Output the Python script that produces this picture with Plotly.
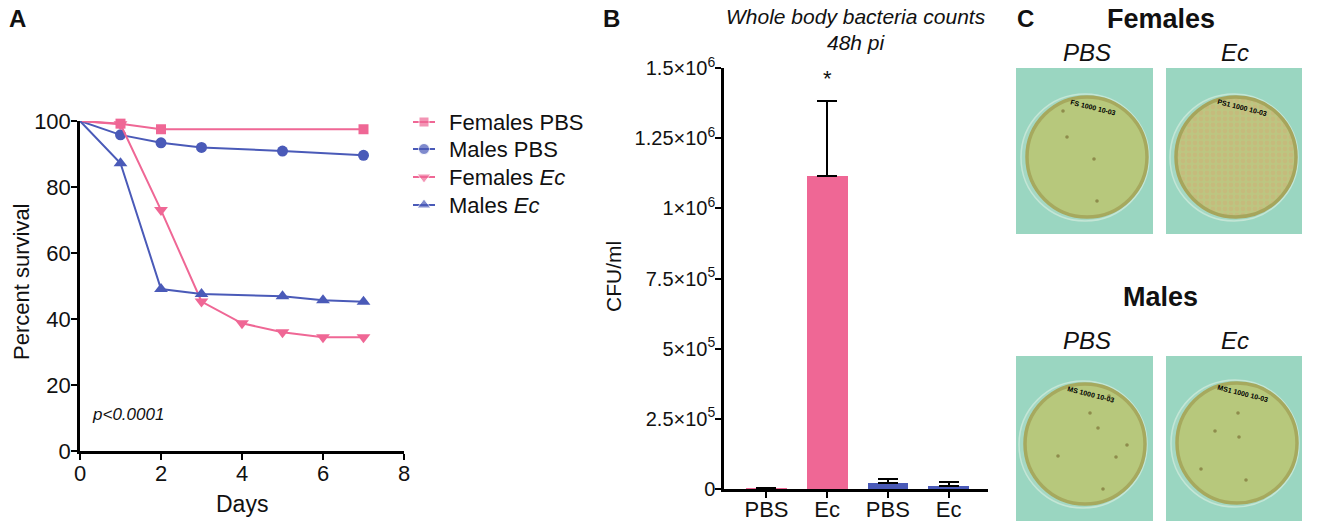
import numpy as np
import plotly.graph_objects as go

# page body has an 8px margin, so the figure is shrunk and shifted by it
OFF = 8
W, H = 1330, 521
FW, FH = W - OFF, H - OFF

# Panel A - percent survival per day
days_f_pbs = [0, 1, 2, 7]
surv_f_pbs = [100, 99.2, 97.5, 97.5]
days_m_pbs = [0, 1, 2, 3, 5, 7]
surv_m_pbs = [100, 95.8, 93.4, 92.0, 90.9, 89.6]
days_f_ec = [0, 1, 2, 3, 4, 5, 6, 7]
surv_f_ec = [100, 99.0, 73.0, 45.3, 38.7, 36.0, 34.5, 34.5]
days_m_ec = [0, 1, 2, 3, 5, 6, 7]
surv_m_ec = [100, 87.2, 49.1, 47.6, 46.9, 45.7, 45.2]

# Panel B - whole body bacteria counts (CFU/ml), 48h pi
groups = ["PBS", "Ec", "PBS", "Ec"]
cfu_mean = [500, 1.115e6, 2.0e4, 1.2e4]
cfu_sem = [1500, 2.68e5, 1.6e4, 1.2e4]
cfu_ticks = [0, 2.5e5, 5e5, 7.5e5, 1e6, 1.25e6, 1.5e6]
cfu_ticktext = ["0", "2.5×10<sup>5</sup>", "5×10<sup>5</sup>", "7.5×10<sup>5</sup>",
                "1×10<sup>6</sup>", "1.25×10<sup>6</sup>", "1.5×10<sup>6</sup>"]

PINK = "#EF6795"
BLUE = "#4A5AB8"
FONT = "Liberation Sans, Arial, sans-serif"


def px(x):
    return (x - OFF) / FW


def py(y):
    return 1 - (y - OFF) / FH


fig = go.Figure()
annotations = []
shapes = []

series = [
    ("Females PBS", days_f_pbs, surv_f_pbs, PINK, "square", 10),
    ("Males PBS", days_m_pbs, surv_m_pbs, BLUE, "circle", 11),
    ("Females <i>Ec</i>", days_f_ec, surv_f_ec, PINK, "triangle-down", 12),
    ("Males <i>Ec</i>", days_m_ec, surv_m_ec, BLUE, "triangle-up", 12),
]
legend_rows = [122, 149, 177, 205]
for (name, d, s, col, sym, size), ly in zip(series, legend_rows):
    # full curve from day 0, markers only from day 1
    fig.add_trace(go.Scatter(x=d, y=s, mode="lines", line=dict(color=col, width=2),
                             showlegend=False, cliponaxis=False, hoverinfo="skip"))
    fig.add_trace(go.Scatter(x=d[1:], y=s[1:], mode="markers", name=name,
                             marker=dict(symbol=sym, size=size, color=col),
                             showlegend=False, cliponaxis=False))
    # legend key (pixel space axis) + label
    fig.add_trace(go.Scatter(x=[413, 424, 435], y=[ly] * 3, mode="lines+markers",
                             line=dict(color=col, width=2),
                             marker=dict(symbol=sym, size=[0, size, 0], color=col),
                             xaxis="x4", yaxis="y4", showlegend=False, hoverinfo="skip"))
    annotations.append(dict(text=name, x=px(447), y=py(ly), xref="paper", yref="paper",
                            xanchor="left", yanchor="middle", showarrow=False,
                            font=dict(family=FONT, size=22, color="#111")))

fig.add_trace(go.Bar(x=list(range(len(groups))), y=cfu_mean, width=0.67,
                     marker=dict(color=[PINK, PINK, BLUE, BLUE], line=dict(width=0)),
                     error_y=dict(type="data", array=cfu_sem, arrayminus=[0] * 4,
                                  symmetric=False, color="black", thickness=2, width=10),
                     xaxis="x2", yaxis="y2", showlegend=False))

# Panel C - plate photographs, drawn in pixel coordinates
plates = [
    # x0, x1, y0, y1, cx, cy, label, colonies, dense
    (1016, 1153, 68, 234, 1087, 157, "FS 1000 10-03",
     [(1067, 137), (1094, 159), (1097, 201), (1063, 111)], False),
    (1166, 1302, 68, 234, 1236, 157, "PS1 1000 10-03", [], True),
    (1016, 1153, 356, 521, 1085, 444, "MS 1000 10-03",
     [(1109, 396), (1090, 413), (1098, 428), (1127, 445), (1116, 457), (1103, 489),
      (1058, 456)], False),
    (1166, 1302, 356, 521, 1237, 443, "MS1 1000 10-03",
     [(1238, 413), (1215, 431), (1239, 437), (1201, 469), (1246, 480)], False),
]
R = 60
for x0, x1, y0, y1, cx, cy, label, colonies, dense in plates:
    shapes.append(dict(type="rect", xref="x3", yref="y3", x0=x0, x1=x1, y0=y0, y1=y1,
                       fillcolor="#9AD6C1", line=dict(width=0), layer="below"))
    shapes.append(dict(type="circle", xref="x3", yref="y3", x0=cx - R - 6, x1=cx + R + 2,
                       y0=cy - R - 3, y1=cy + R + 4, fillcolor="#A4D8C3",
                       line=dict(color="#C4E6D6", width=1.5), layer="below"))
    agar = "#BCC681" if dense else "#B7C87C"
    if dense:
        t = np.linspace(0, 2 * np.pi, 120)
        fig.add_trace(go.Scatter(x=cx + R * np.cos(t), y=cy + R * np.sin(t), mode="lines",
                                 fill="toself", fillcolor=agar, line=dict(width=0),
                                 fillpattern=dict(shape=".", bgcolor=agar, fgcolor="#CDB077",
                                                  size=6, solidity=0.5),
                                 xaxis="x3", yaxis="y3", showlegend=False, hoverinfo="skip"))
        shapes.append(dict(type="circle", xref="x3", yref="y3", x0=cx - R, x1=cx + R,
                           y0=cy - R, y1=cy + R, line=dict(color="#A6A55C", width=3.5)))
    else:
        shapes.append(dict(type="circle", xref="x3", yref="y3", x0=cx - R, x1=cx + R,
                           y0=cy - R, y1=cy + R, fillcolor=agar,
                           line=dict(color="#A6A95E", width=3.5), layer="below"))
    for ux, uy in colonies:
        shapes.append(dict(type="circle", xref="x3", yref="y3", x0=ux - 1.8, x1=ux + 1.8,
                           y0=uy - 1.8, y1=uy + 1.8, fillcolor="#8E8C4C",
                           line=dict(width=0)))
    annotations.append(dict(text=label, xref="x3", yref="y3", x=cx + 6, y=cy - 50,
                            xanchor="center", yanchor="middle",
                            showarrow=False, textangle=14,
                            font=dict(family=FONT, size=7, color="black", weight="bold")))


def label(text, x, y, size=22, angle=0):
    annotations.append(dict(text=text, x=px(x), y=py(y), xref="paper", yref="paper",
                            xanchor="center", yanchor="middle",
                            showarrow=False, textangle=angle,
                            font=dict(family=FONT, size=size, color="#111")))


label("<b>A</b>", 17, 19, size=24)
label("<b>B</b>", 611, 18, size=24)
label("<b>C</b>", 1025, 18, size=24)
label("Percent survival", 21, 282, size=22, angle=-90)
label("Days", 242, 504, size=23)
label("<i>p<0.0001</i>", 128, 414, size=17)
label("CFU/ml", 613, 277, size=21, angle=-90)
label("<i>Whole body bacteria counts</i>", 856, 16, size=21)
label("<i>48h pi</i>", 856, 43, size=21)
label("<b>Females</b>", 1161, 19, size=27)
label("<b>Males</b>", 1160, 297, size=27)
label("<i>PBS</i>", 1087, 52, size=24)
label("<i>Ec</i>", 1235, 52, size=24)
label("<i>PBS</i>", 1087, 340, size=24)
label("<i>Ec</i>", 1235, 340, size=24)

annotations.append(dict(text="*", x=1, y=cfu_mean[1] + cfu_sem[1], xref="x2", yref="y2",
                        xanchor="center", yanchor="bottom",
                        showarrow=False, yshift=8, font=dict(family=FONT, size=22, color="#111")))

axis_style = dict(showline=True, linecolor="black", linewidth=2.5, ticks="outside",
                  ticklen=6, tickwidth=2, tickcolor="black", showgrid=False, zeroline=False,
                  automargin=False, tickfont=dict(family=FONT, size=22, color="#111"))
hidden = dict(visible=False, automargin=False, fixedrange=True)

fig.update_layout(
    width=FW, height=FH,
    margin=dict(l=0, r=0, t=0, b=0, autoexpand=False),
    paper_bgcolor="white", plot_bgcolor="white",
    font=dict(family=FONT, color="#111"),
    xaxis=dict(domain=[px(80), px(404)], range=[0, 8], tickvals=[0, 2, 4, 6, 8],
               ticklabelstandoff=-5, **axis_style),
    yaxis=dict(domain=[py(451), py(121)], range=[0, 100], tickvals=[0, 20, 40, 60, 80, 100],
               ticklabelstandoff=-4, **axis_style),
    xaxis2=dict(domain=[px(724), px(988)], range=[-0.7, 3.65], anchor="y2",
                tickvals=list(range(len(groups))), ticktext=groups,
                ticklabelstandoff=-7, **axis_style),
    yaxis2=dict(domain=[py(489), py(68)], range=[0, 1.5e6], anchor="x2",
                tickvals=cfu_ticks, ticktext=cfu_ticktext, ticklabelstandoff=-4,
                **{**axis_style, "tickfont": dict(family=FONT, size=20, color="#111")}),
    xaxis3=dict(domain=[px(1000), 1], range=[1000, W], anchor="y3", **hidden),
    yaxis3=dict(domain=[0, 1], range=[H, OFF], anchor="x3", **hidden),
    xaxis4=dict(domain=[px(406), px(440)], range=[406, 440], anchor="y4", **hidden),
    yaxis4=dict(domain=[py(230), py(100)], range=[230, 100], anchor="x4", **hidden),
    showlegend=False,
    shapes=shapes,
    annotations=annotations,
    bargap=0,
)

fig.write_html("out.html")
